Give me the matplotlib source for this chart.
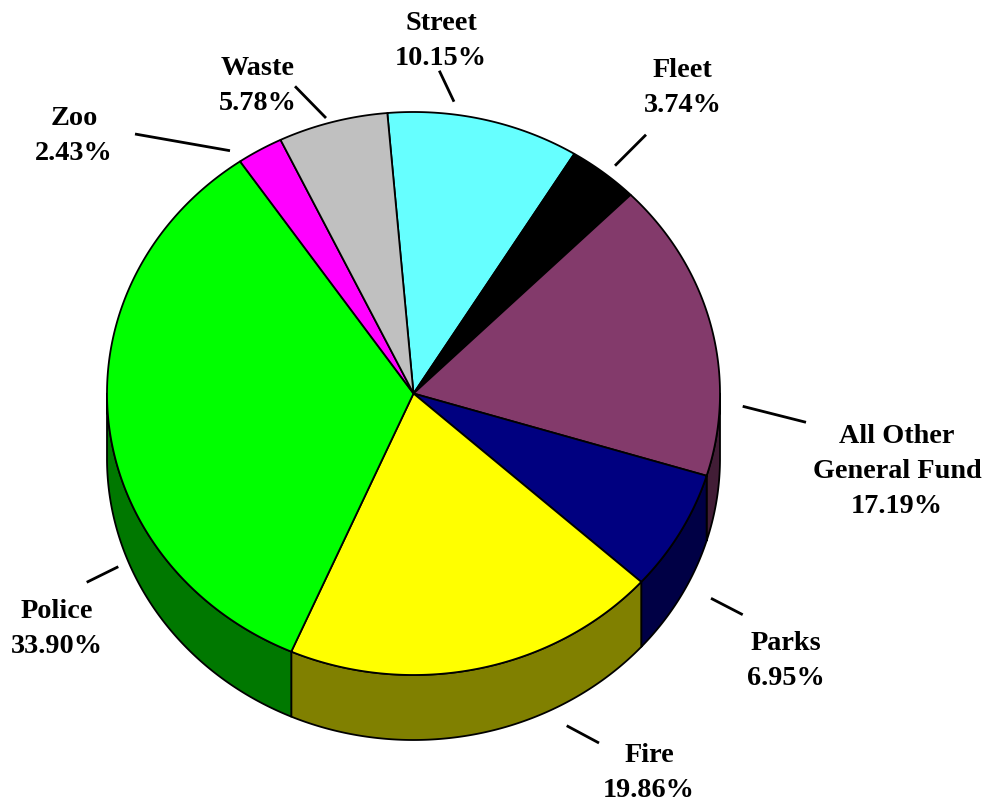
import numpy as np
import matplotlib
matplotlib.use("Agg")
import matplotlib.pyplot as plt
from matplotlib.patches import Polygon

# ---- data ----
categories = ["Street", "Fleet", "All Other\nGeneral Fund", "Parks", "Fire", "Police", "Zoo", "Waste"]
values = [10.15, 3.74, 17.19, 6.95, 19.86, 33.90, 2.43, 5.78]
top_colors = ["#66FFFF", "#000000", "#833A6B", "#000080", "#FFFF00", "#00FF00", "#FF00FF", "#C0C0C0"]
side_colors = ["#338080", "#000000", "#421D36", "#000045", "#808000", "#007800", "#800080", "#606060"]

# ---- layout (pixel space) ----
W, H = 994, 804
cx, cy, rx, ry, depth = 413.5, 394.5, 306.5, 281.5, 65
start_angle = 94.9  # degrees, slices go clockwise

label_pos = [(441, 30), (682.5, 77), (897, 443), (785.5, 650),
             (649, 762.5), (57, 618), (74, 125), (257.5, 75)]
leader = [((439.3, 71.7), (454, 102.7)),
          ((646, 135.7), (615, 166.7)),
          ((742.7, 407.3), (806, 423.3)),
          ((711, 599.3), (742.7, 615.7)),
          ((566.7, 726.7), (599, 744)),
          ((118.3, 567.7), (86.7, 583.3)),
          ((135, 135), (230, 151.7)),
          ((295, 87.3), (326, 119))]
line_step = 35

fig = plt.figure(figsize=(W / 100, H / 100), dpi=100)
ax = fig.add_axes([0, 0, 1, 1])
ax.set_xlim(0, W)
ax.set_ylim(H, 0)
ax.axis("off")


def pt(t_deg, dy=0.0):
    t = np.radians(t_deg)
    return cx + rx * np.cos(t), cy - ry * np.sin(t) + dy


total = sum(values)
a = start_angle
edges = []
for v in values:
    span = 360.0 * v / total
    edges.append((a - span, a))
    a -= span

# side walls (front half: angles in [-180, 0])
for (lo, hi), sc in zip(edges, side_colors):
    s_lo, s_hi = max(lo, -180.0), min(hi, 0.0)
    if s_hi <= s_lo:
        continue
    ts = np.linspace(s_lo, s_hi, 200)
    top = [pt(t) for t in ts]
    bot = [pt(t, depth) for t in ts[::-1]]
    ax.add_patch(Polygon(top + bot, closed=True, facecolor=sc, edgecolor="black",
                         linewidth=1.3, joinstyle="round", zorder=1))

# top faces
for (lo, hi), tc in zip(edges, top_colors):
    ts = np.linspace(hi, lo, 300)
    pts = [(cx, cy)] + [pt(t) for t in ts]
    ax.add_patch(Polygon(pts, closed=True, facecolor=tc, edgecolor="black",
                         linewidth=1.3, joinstyle="round", zorder=2))

# labels
font = dict(family="Liberation Serif", weight="bold", size=20.3)
for name, v, (lx, ly), ((x0, y0), (x1, y1)) in zip(categories, values, label_pos, leader):
    lines = name.split("\n") + [f"{v:.2f}%"]
    for k, s in enumerate(lines):
        ax.text(lx, ly + k * line_step, s, ha="center", va="baseline", color="black",
                zorder=5, **font)
    ax.plot([x0, x1], [y0, y1], color="black", linewidth=2.0, solid_capstyle="butt", zorder=4)

fig.savefig("out.png", dpi=100, facecolor="white")
